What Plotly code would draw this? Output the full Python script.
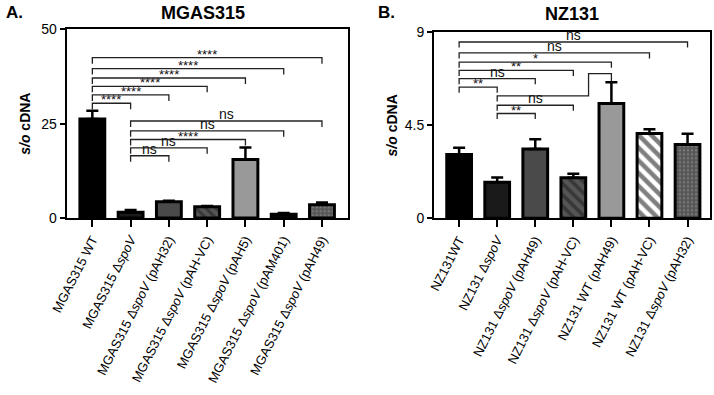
import plotly.graph_objects as go

FONT = "Liberation Sans, Arial, sans-serif"

# ---------------- data ----------------
labels_a = ["MGAS315 WT", "MGAS315 Δ<i>spoV</i>", "MGAS315 Δ<i>spoV</i> (pAH32)",
            "MGAS315 Δ<i>spoV</i> (pAH-VC)", "MGAS315 Δ<i>spoV</i> (pAH5)",
            "MGAS315 Δ<i>spoV</i> (pAM401)", "MGAS315 Δ<i>spoV</i> (pAH49)"]
values_a = [26.2, 1.5, 4.3, 3.0, 15.5, 1.0, 3.5]
errors_a = [2.2, 0.6, 0.3, 0.2, 3.2, 0.3, 0.6]

labels_b = ["NZ131WT", "NZ131 Δ<i>spoV</i>", "NZ131 Δ<i>spoV</i> (pAH49)",
            "NZ131 Δ<i>spoV</i> (pAH-VC)", "NZ131 WT (pAH49)", "NZ131 WT (pAH-VC)",
            "NZ131 Δ<i>spoV</i> (pAH32)"]
values_b = [3.09, 1.74, 3.35, 1.96, 5.56, 4.10, 3.57]
errors_b = [0.32, 0.24, 0.48, 0.19, 1.02, 0.21, 0.52]

ticks_a = [0, 25, 50]
ticks_b = [0, 4.5, 9]

# comparisons: (from index, to index, label, bracket height)
brackets_a = [
    (0, 6, "****", 42.5), (0, 5, "****", 39.6), (0, 4, "****", 37.1),
    (0, 3, "****", 34.9), (0, 2, "****", 32.6), (0, 1, "****", 30.4),
    (1, 6, "ns", 25.7), (1, 5, "ns", 23.1), (1, 4, "****", 20.8),
    (1, 3, "ns", 18.6), (1, 2, "ns", 16.5),
]
brackets_b = [
    (0, 6, "ns", 8.53), (0, 5, "ns", 8.00), (0, 4, "*", 7.56),
    (0, 3, "**", 7.16), (0, 2, "ns", 6.76), (0, 1, "**", 6.35),
    (1, 3, "ns", 5.47), (1, 2, "**", 5.07),
]
# bracket with a step (ΔspoV -> WT (pAH49)), no label
step_b = (1, 4, 5.92, 7.00, 6.62)

# ---------------- styles ----------------
fills_a = [
    dict(color="#000000"),
    dict(color="#1a1a1a"),
    dict(color="#4a4a4a"),
    dict(color="#555555", pattern=dict(shape="\\", fgcolor="#1a1a1a", bgcolor="#555555", size=7, solidity=0.45)),
    dict(color="#999999"),
    dict(color="#0a0a0a"),
    dict(color="#555555", pattern=dict(shape=".", fgcolor="#999999", bgcolor="#555555", size=4, solidity=0.3)),
]
fills_b = [
    dict(color="#000000"),
    dict(color="#1a1a1a"),
    dict(color="#4a4a4a"),
    dict(color="#555555", pattern=dict(shape="\\", fgcolor="#1a1a1a", bgcolor="#555555", size=8, solidity=0.45)),
    dict(color="#999999"),
    dict(color="#ffffff", pattern=dict(shape="\\", fgcolor="#000000", bgcolor="#ffffff", size=9, solidity=0.5)),
    dict(color="#555555", pattern=dict(shape=".", fgcolor="#999999", bgcolor="#555555", size=4, solidity=0.3)),
]

W, H = 714, 395


def px(x):
    return x / W


def py(y):
    return 1 - y / H


fig = go.Figure()


def add_bars(values, errors, fills, xa, ya):
    for i, (v, e, f) in enumerate(zip(values, errors, fills)):
        marker = dict(color=f["color"], line=dict(color="#000000", width=3))
        if "pattern" in f:
            marker["pattern"] = f["pattern"]
        fig.add_trace(go.Bar(
            x=[i], y=[v], width=0.65, marker=marker, xaxis=xa, yaxis=ya,
            error_y=dict(type="data", array=[e], arrayminus=[0], symmetric=False,
                         color="#000000", thickness=2.5, width=6),
            showlegend=False, hoverinfo="skip"))


add_bars(values_a, errors_a, fills_a, "x", "y")
add_bars(values_b, errors_b, fills_b, "x2", "y2")

shapes = []
annotations = []


def add_brackets(brackets, xref, yref, drop, lw=1.3):
    for i, j, lab, h in brackets:
        shapes.append(dict(type="path", xref=xref, yref=yref,
                           path=f"M {i},{h - drop} L {i},{h} L {j},{h} L {j},{h - drop}",
                           line=dict(color="#222222", width=lw)))
        star = "*" in lab
        annotations.append(dict(xref=xref, yref=yref, x=(i + j) / 2, y=h, text=lab,
                                showarrow=False, yanchor="bottom",
                                yshift=-6 if star else -3,
                                font=dict(family=FONT, size=13 if star else 14, color="#111111")))


add_brackets(brackets_a, "x", "y", 1.6)
add_brackets(brackets_b, "x2", "y2", 0.27)

i, j, h1, h2, hend = step_b
xm = 3.4
shapes.append(dict(type="path", xref="x2", yref="y2",
                   path=f"M {i},{h1 - 0.27} L {i},{h1} L {xm},{h1} L {xm},{h2} L {j},{h2} L {j},{hend}",
                   line=dict(color="#222222", width=1.3)))

# panel letters and titles
annotations += [
    dict(xref="paper", yref="paper", x=px(4), y=py(1), xanchor="left", yanchor="top",
         text="<b>A.</b>", showarrow=False, font=dict(family=FONT, size=17, color="#000")),
    dict(xref="paper", yref="paper", x=px(376), y=py(1), xanchor="left", yanchor="top",
         text="<b>B.</b>", showarrow=False, font=dict(family=FONT, size=17, color="#000")),
    dict(xref="paper", yref="paper", x=px(203), y=py(1), xanchor="center", yanchor="top",
         text="<b>MGAS315</b>", showarrow=False, font=dict(family=FONT, size=18, color="#000")),
    dict(xref="paper", yref="paper", x=px(572), y=py(2), xanchor="center", yanchor="top",
         text="<b>NZ131</b>", showarrow=False, font=dict(family=FONT, size=18, color="#000")),
]

axis_common = dict(showline=True, linecolor="#000000", linewidth=2, mirror=True,
                   ticks="outside", tickcolor="#000000", tickwidth=2, showgrid=False,
                   zeroline=False, automargin=False)
xfont = dict(family=FONT, size=13, color="#000")
yfont = dict(family=FONT, size=14, color="#000")

fig.update_layout(
    width=W, height=H, margin=dict(l=0, r=0, t=0, b=0),
    paper_bgcolor="white", plot_bgcolor="white", barmode="overlay",
    shapes=shapes, annotations=annotations,
    xaxis=dict(**axis_common, domain=[px(66.7), px(348)], range=[-0.67, 6.68],
               tickvals=list(range(7)), ticktext=labels_a, tickangle=-63, ticklen=7,
               tickfont=xfont),
    yaxis=dict(**axis_common, domain=[py(218), py(29.3)], range=[0, 50],
               tickvals=ticks_a, ticklen=5, tickfont=yfont,
               title=dict(text="<b><i>s/o</i> cDNA</b>", standoff=7,
                          font=dict(family=FONT, size=14, color="#000"))),
    xaxis2=dict(**axis_common, domain=[px(434), px(710)], range=[-0.66, 6.59],
                tickvals=list(range(7)), ticktext=labels_b, tickangle=-63, ticklen=7,
                anchor="y2", tickfont=xfont),
    yaxis2=dict(**axis_common, domain=[py(218.3), py(32.3)], range=[0, 9],
                tickvals=ticks_b, ticktext=["0", "4.5", "9"], ticklen=5, anchor="x2",
                tickfont=yfont,
                title=dict(text="<b><i>s/o</i> cDNA</b>", standoff=4,
                           font=dict(family=FONT, size=14, color="#000"))),
)

fig.write_html("out.html", config={"displayModeBar": False},
               post_script="document.body.style.margin='0';")
